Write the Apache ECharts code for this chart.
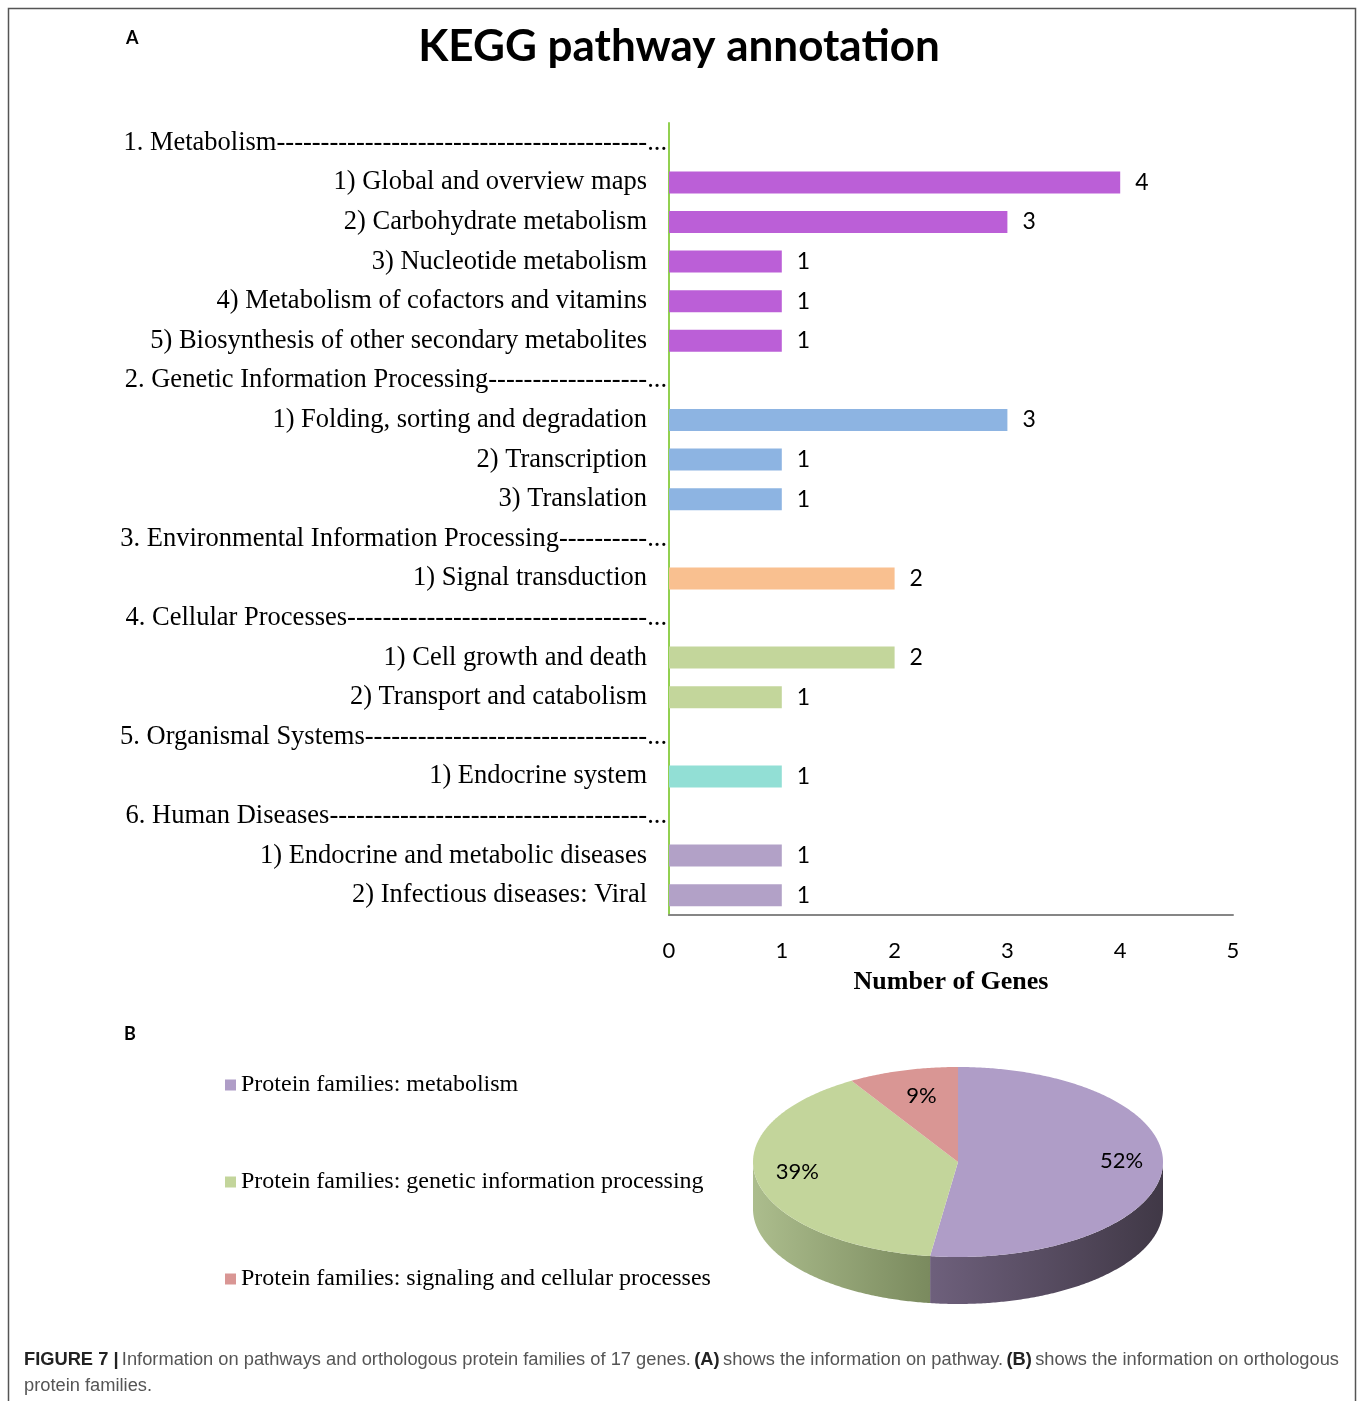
<!DOCTYPE html>
<html>
<head>
<meta charset="utf-8">
<title>KEGG pathway annotation</title>
<script src="https://cdn.jsdelivr.net/npm/echarts@6/dist/echarts.min.js"></script>
<style>
  html, body { margin: 0; padding: 0; background: #fff; }
  #main { width: 1358px; height: 1401px; }
</style>
</head>
<body>
<div id="main"></div>
<script>
// pathway rows, top to bottom; header rows have no value (null)
var pathwayNames = [
  '1. Metabolism',
  '1) Global and overview maps',
  '2) Carbohydrate metabolism',
  '3) Nucleotide metabolism',
  '4) Metabolism of cofactors and vitamins',
  '5) Biosynthesis of other secondary metabolites',
  '2. Genetic Information Processing',
  '1) Folding, sorting and degradation',
  '2) Transcription',
  '3) Translation',
  '3. Environmental Information Processing',
  '1) Signal transduction',
  '4. Cellular Processes',
  '1) Cell growth and death',
  '2) Transport and catabolism',
  '5. Organismal Systems',
  '1) Endocrine system',
  '6. Human Diseases',
  '1) Endocrine and metabolic diseases',
  '2) Infectious diseases: Viral'
];
var geneCounts = [null, 4, 3, 1, 1, 1, null, 3, 1, 1, null, 2, null, 2, 1, null, 1, null, 1, 1];
var xTicks = [0, 1, 2, 3, 4, 5];

// orthologous protein families (pie)
var familyNames = [
  'Protein families: metabolism',
  'Protein families: genetic information processing',
  'Protein families: signaling and cellular processes'
];
var familyCounts = [12, 9, 2];

// styles
var groupColors = ['#bb5fd7', '#8db4e2', '#f9c090', '#c3d69b', '#92dfd5', '#b2a1c7'];
var familyTop = ['#af9dc7', '#c3d59b', '#d99694'];
var familySide = [['#6e607c', '#403846'], ['#acbd8d', '#7a8a5e'], ['#c07a78', '#9a5a58']];
var labelRadius = [0.8, 0.8, 0.66];

var serif = "'Liberation Serif', 'Times New Roman', serif";
var sans = "Lato, 'Open Sans', sans-serif";
var narrow = "'Liberation Sans Narrow', 'Liberation Sans', Arial, sans-serif";

// which group each row belongs to (a header row starts a new group)
var rowGroup = [];
var g = -1;
for (var i = 0; i < geneCounts.length; i++) {
  if (geneCounts[i] === null) g++;
  rowGroup.push(g);
}

var barData = geneCounts.map(function (v, i) {
  if (v === null) return '-';
  return { value: v, itemStyle: { color: groupColors[rowGroup[i]] } };
});

// pie geometry (pseudo 3D ellipse)
var pieCx = 958, pieCy = 1162, pieRx = 205, pieRy = 95, pieDepth = 47;
var familyTotal = familyCounts.reduce(function (a, b) { return a + b; }, 0);

function rimPoint(t, dy) {
  return [pieCx + pieRx * Math.sin(t), pieCy - pieRy * Math.cos(t) + (dy || 0)];
}
function arcPoints(a0, a1, dy) {
  var pts = [];
  var n = Math.max(2, Math.ceil((a1 - a0) / 0.01));
  for (var k = 0; k <= n; k++) pts.push(rimPoint(a0 + (a1 - a0) * k / n, dy));
  return pts;
}

function makeSliceSeries(idx) {
  return {
    type: 'custom',
    name: familyNames[idx],
    coordinateSystem: 'none',
    silent: true,
    itemStyle: { color: familyTop[idx] },
    data: [[familyCounts[idx]]],
    renderItem: function (params, api) {
      var before = 0;
      for (var j = 0; j < idx; j++) before += familyCounts[j];
      var v = api.value(0);
      var a0 = before / familyTotal * Math.PI * 2;
      var a1 = (before + v) / familyTotal * Math.PI * 2;
      var children = [];
      // front wall, only the part facing the viewer
      var s0 = Math.max(a0, Math.PI / 2), s1 = Math.min(a1, Math.PI * 1.5);
      if (s1 > s0) {
        var top = arcPoints(s0, s1, 0);
        var bot = arcPoints(s0, s1, pieDepth).reverse();
        children.push({
          type: 'polygon',
          shape: { points: top.concat(bot) },
          style: {
            fill: {
              type: 'linear', x: 0, y: 0, x2: 1, y2: 0,
              colorStops: [
                { offset: 0, color: familySide[idx][0] },
                { offset: 1, color: familySide[idx][1] }
              ]
            }
          }
        });
      }
      // top face
      children.push({
        type: 'polygon',
        shape: { points: [[pieCx, pieCy]].concat(arcPoints(a0, a1, 0)) },
        style: { fill: familyTop[idx] }
      });
      // percentage label
      var mid = (a0 + a1) / 2;
      var f = labelRadius[idx];
      var lp = [pieCx + pieRx * f * Math.sin(mid), pieCy - pieRy * f * Math.cos(mid) - 6];
      children.push({
        type: 'text',
        x: lp[0], y: lp[1],
        style: {
          text: Math.round(v / familyTotal * 100) + '%',
          font: '22px ' + sans,
          fill: '#000',
          align: 'center',
          verticalAlign: 'middle'
        }
      });
      return { type: 'group', children: children };
    }
  };
}

var chart = echarts.init(document.getElementById('main'));

var option = {
  animation: false,
  backgroundColor: '#fff',
  title: {
    text: 'KEGG pathway annotation',
    left: 'center',
    top: 20,
    textStyle: { fontFamily: sans, fontWeight: 'bold', fontSize: 44, color: '#000' }
  },
  legend: {
    data: familyNames,
    orient: 'vertical',
    left: 220,
    top: 1068,
    icon: 'rect',
    itemWidth: 11,
    itemHeight: 11,
    itemGap: 73,
    selectedMode: false,
    textStyle: { fontFamily: serif, fontSize: 24, color: '#000' }
  },
  grid: { left: 669, right: 125, top: 123, height: 792 },
  xAxis: {
    type: 'value',
    min: xTicks[0],
    max: xTicks[xTicks.length - 1],
    interval: 1,
    axisLine: { show: true, lineStyle: { color: '#868686', width: 2 } },
    axisTick: { show: false },
    splitLine: { show: false },
    axisLabel: { margin: 25, fontFamily: sans, fontSize: 22, color: '#000' },
    name: 'Number of Genes',
    nameLocation: 'middle',
    nameGap: 54,
    nameTextStyle: { fontFamily: serif, fontWeight: 'bold', fontSize: 26, color: '#000' }
  },
  yAxis: [
    {
      type: 'category',
      inverse: true,
      data: pathwayNames,
      axisLine: { show: true, lineStyle: { color: '#92d050', width: 2 } },
      axisTick: { show: false },
      axisLabel: {
        interval: 0,
        margin: 22,
        fontFamily: serif,
        fontSize: 26.5,
        color: '#000',
        formatter: function (val, i) { return geneCounts[i] === null ? '' : val; }
      }
    },
    {
      type: 'category',
      inverse: true,
      position: 'left',
      offset: 0,
      data: pathwayNames,
      axisLine: { show: false },
      axisTick: { show: false },
      axisLabel: {
        interval: 0,
        margin: 2,
        fontFamily: serif,
        fontSize: 26.5,
        color: '#000',
        width: 550,
        overflow: 'truncate',
        ellipsis: '...',
        formatter: function (val, i) {
          return geneCounts[i] === null ? val + new Array(90).join('-') : '';
        }
      }
    }
  ],
  graphic: [
    {
      type: 'rect',
      shape: { x: 8.5, y: 8.5, width: 1347, height: 1420 },
      style: { fill: 'none', stroke: '#555', lineWidth: 1.5 },
      silent: true
    },
    {
      type: 'text', left: 126, top: 29,
      style: { text: 'A', font: 'bold 18px ' + sans, fill: '#000' }
    },
    {
      type: 'text', left: 124, top: 1025,
      style: { text: 'B', font: 'bold 18px ' + sans, fill: '#000' }
    },
    {
      type: 'text', left: 24, top: 1347,
      style: {
        text: '{b|FIGURE 7 |} {n|Information on pathways and orthologous protein families of 17 genes.} {b|(A)} {n|shows the information on pathway.} {b|(B)} {n|shows the information on orthologous}\n{n|protein families.}',
        lineHeight: 26,
        rich: {
          b: { fontFamily: narrow, fontWeight: 'bold', fontSize: 18.3, fill: '#222', lineHeight: 26 },
          n: { fontFamily: narrow, fontSize: 18.3, fill: '#555', lineHeight: 26 }
        }
      }
    }
  ],
  series: [
    {
      type: 'bar',
      name: 'Number of Genes',
      yAxisIndex: 0,
      barWidth: 22,
      silent: true,
      data: barData,
      label: {
        show: true,
        position: 'right',
        distance: 15,
        fontFamily: sans,
        fontSize: 23,
        color: '#000'
      }
    },
    makeSliceSeries(0),
    makeSliceSeries(1),
    makeSliceSeries(2)
  ]
};

chart.setOption(option);
</script>
</body>
</html>
